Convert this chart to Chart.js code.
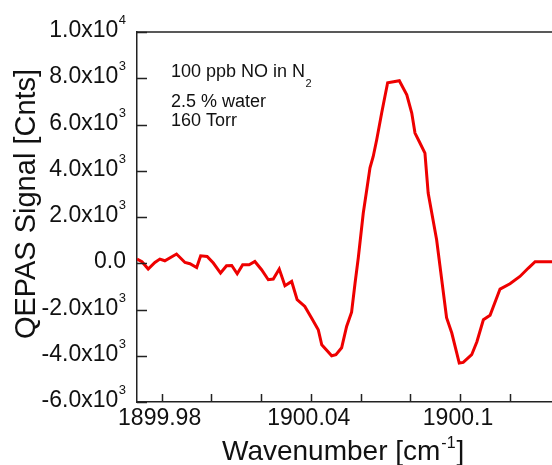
<!DOCTYPE html>
<html>
<head>
<meta charset="utf-8">
<script src="https://cdn.jsdelivr.net/npm/chart.js@4.4.0/dist/chart.umd.min.js"></script>
<style>
  html, body { margin: 0; padding: 0; background: #fff; overflow: hidden; }
</style>
</head>
<body>
<canvas id="chart" width="552" height="465"></canvas>
<script>
// Spectrum: wavenumber [cm-1] and QEPAS signal [Cnts]
const wavenumber = [1899.9701, 1899.9721, 1899.9746, 1899.9773, 1899.9793, 1899.9813, 1899.9860, 1899.9894,
  1899.9914, 1899.9941, 1899.9957, 1899.9983, 1900.0008, 1900.0037, 1900.0061, 1900.0082, 1900.0104,
  1900.0126, 1900.0152, 1900.0175, 1900.0202, 1900.0229, 1900.0249, 1900.0273, 1900.0296, 1900.0323,
  1900.0345, 1900.0376, 1900.0403, 1900.0430, 1900.0444, 1900.0484, 1900.0501, 1900.0524, 1900.0544,
  1900.0564, 1900.0578, 1900.0591, 1900.0611, 1900.0625, 1900.0638, 1900.0651, 1900.0665, 1900.0685,
  1900.0698, 1900.0709, 1900.0756, 1900.0786, 1900.0806, 1900.0819, 1900.0836, 1900.0859, 1900.0872,
  1900.0906, 1900.0946, 1900.0967, 1900.0997, 1900.1013, 1900.1047, 1900.1068, 1900.1094, 1900.1121,
  1900.1161, 1900.1201, 1900.1241, 1900.1275, 1900.1302, 1900.1370];
const signal = [182, 65, -251, 35, 182, 108, 398, 35, -22, -182, 324, 294, 9, -424, -108, -95, -454,
  -65, -65, 78, -281, -713, -683, -251, -973, -787, -1578, -1868, -2370, -2875, -3524, -4000, -3956,
  -3654, -2733, -2119, -856, 238, 2171, 3178, 4129, 4618, 5340, 6495, 7212, 7805, 7891, 7286, 6495,
  5630, 5267, 4765, 3035, 1016, -2357, -3018, -4315, -4289, -3956, -3394, -2443, -2249, -1116, -886,
  -571, -208, 65, 65];

// Axis ticks
const xTicks = [1899.98, 1900.00, 1900.02, 1900.04, 1900.06, 1900.08, 1900.10, 1900.12];
const xTickLabels = ["1899.98", "", "", "1900.04", "", "", "1900.1", ""];
const yTicks = [-6000, -4000, -2000, 0, 2000, 4000, 6000, 8000, 10000];
const yTickMantissa = ["-6.0x10", "-4.0x10", "-2.0x10", "0.0", "2.0x10", "4.0x10", "6.0x10", "8.0x10", "1.0x10"];
const yTickExponent = ["3", "3", "3", "", "3", "3", "3", "3", "4"];

// Texts
const xTitle = ["Wavenumber [cm", "-1", "]"];
const yTitle = "QEPAS Signal [Cnts]";
const notes = ["100 ppb NO in N", "2.5 % water", "160 Torr"];

const FONT = '"Liberation Sans", Arial, sans-serif';
const INK = "#111";

// Desenha molduras, marcas internas e todos os textos
const textPlugin = {
  id: "textPlugin",
  afterDraw(chart) {
    const ctx = chart.ctx;
    const area = chart.chartArea;
    const xs = chart.scales.x;
    const ys = chart.scales.y;
    ctx.save();

    // moldura superior
    ctx.strokeStyle = "#222";
    ctx.lineWidth = 1.5;
    ctx.beginPath();
    ctx.moveTo(area.left, area.top);
    ctx.lineTo(area.right, area.top);
    ctx.stroke();

    // marcas para dentro
    ctx.beginPath();
    yTicks.forEach((v) => {
      const y = Math.round(ys.getPixelForValue(v)) + 0.5;
      ctx.moveTo(area.left, y);
      ctx.lineTo(area.left + 10, y);
    });
    xTicks.forEach((v) => {
      const x = Math.round(xs.getPixelForValue(v)) + 0.5;
      ctx.moveTo(x, area.bottom);
      ctx.lineTo(x, area.bottom - 8);
    });
    ctx.stroke();

    ctx.fillStyle = INK;
    ctx.textBaseline = "alphabetic";

    // rótulos do eixo y com expoente
    yTicks.forEach((v, i) => {
      const y = ys.getPixelForValue(v) + 5;
      let right = 126;
      ctx.textAlign = "right";
      if (yTickExponent[i]) {
        ctx.font = "13px " + FONT;
        ctx.fillText(yTickExponent[i], right, y - 13);
        right -= ctx.measureText(yTickExponent[i]).width + 0.5;
      }
      ctx.font = "23px " + FONT;
      ctx.fillText(yTickMantissa[i], right, y);
    });

    // rótulos do eixo x
    ctx.textAlign = "center";
    ctx.font = "23px " + FONT;
    xTicks.forEach((v, i) => {
      if (xTickLabels[i]) ctx.fillText(xTickLabels[i], xs.getPixelForValue(v) - 2, 425);
    });

    // título do eixo x
    ctx.textAlign = "left";
    let x = 222;
    ctx.font = "28px " + FONT;
    ctx.fillText(xTitle[0], x, 460);
    x += ctx.measureText(xTitle[0]).width + 1;
    ctx.font = "16px " + FONT;
    ctx.fillText(xTitle[1], x, 448);
    x += ctx.measureText(xTitle[1]).width + 1;
    ctx.font = "28px " + FONT;
    ctx.fillText(xTitle[2], x, 460);

    // título do eixo y
    ctx.save();
    ctx.translate(35, 204);
    ctx.rotate(-Math.PI / 2);
    ctx.textAlign = "center";
    ctx.font = "29px " + FONT;
    ctx.fillText(yTitle, 0, 0);
    ctx.restore();

    // anotação
    ctx.textAlign = "left";
    ctx.font = "18px " + FONT;
    ctx.fillText(notes[0], 171, 77);
    const subX = 171 + ctx.measureText(notes[0]).width + 0.5;
    ctx.fillText(notes[1], 171, 107);
    ctx.fillText(notes[2], 171, 126);
    ctx.font = "11px " + FONT;
    ctx.fillText("2", subX, 87);

    ctx.restore();
  }
};

const ctx = document.querySelector("#chart").getContext("2d");
const chart = new Chart(ctx, {
  type: "line",
  data: {
    datasets: [{
      data: wavenumber.map((w, i) => ({ x: w, y: signal[i] })),
      borderColor: "rgb(238,0,0)",
      borderWidth: 3,
      pointRadius: 0,
      tension: 0,
      fill: false
    }]
  },
  options: {
    responsive: false,
    animation: false,
    devicePixelRatio: 1,
    layout: { padding: { top: 32, left: 0, right: 0, bottom: 0 } },
    plugins: { legend: { display: false }, tooltip: { enabled: false } },
    scales: {
      x: {
        type: "linear",
        min: 1899.9701,
        max: 1900.1370,
        afterBuildTicks: (s) => { s.ticks = xTicks.map((v) => ({ value: v })); },
        afterFit: (s) => { s.height = 63; },
        ticks: { display: false },
        grid: { display: false },
        border: { display: true, color: "#222", width: 1.5 }
      },
      y: {
        min: -6000,
        max: 10000,
        afterBuildTicks: (s) => { s.ticks = yTicks.map((v) => ({ value: v })); },
        afterFit: (s) => { s.width = 137; },
        ticks: { display: false },
        grid: { display: false },
        border: { display: true, color: "#222", width: 1.5 }
      }
    }
  },
  plugins: [textPlugin]
});
</script>
</body>
</html>
